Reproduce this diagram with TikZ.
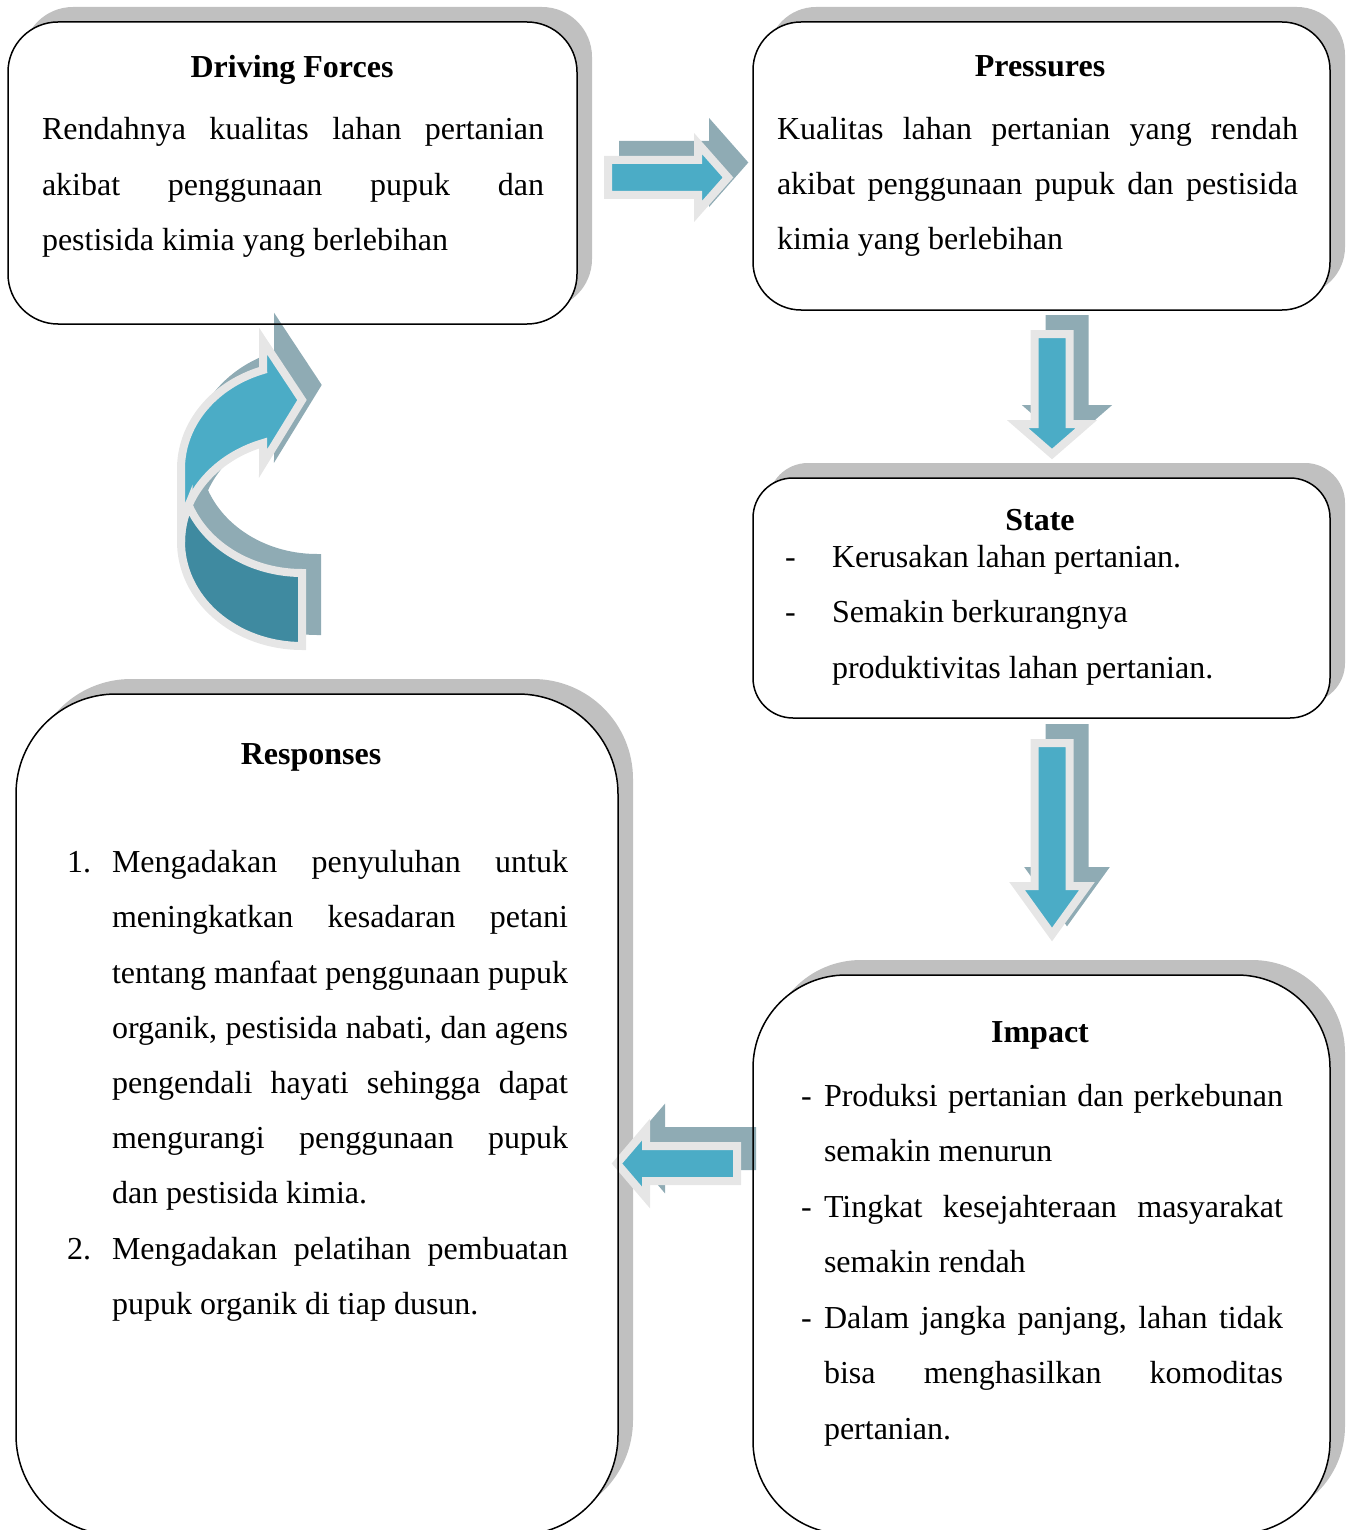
\documentclass[tikz,border=0pt]{standalone}
\usepackage{fontspec}
\setmainfont{Liberation Serif}
\definecolor{arrblue}{RGB}{75,172,198}
\definecolor{arrdark}{RGB}{63,138,160}
\definecolor{arrshadow}{RGB}{143,171,180}
\definecolor{arroutline}{RGB}{230,230,230}
\definecolor{boxshadow}{RGB}{192,192,192}
\newcommand\JLine[5]{\node[txt] (#1) at (#2,#3) {\makebox[#4pt][s]{#5}};}
\newcommand\RLine[4]{\node[txt] (#1) at (#2,#3) {#4};}
\frenchspacing
\begin{document}
\begin{tikzpicture}[x=1pt,y=-1pt,
  txt/.style={inner sep=0pt, outer sep=0pt, anchor=base west, font=\fontsize{32}{38}\selectfont},
  ttl/.style={inner sep=0pt, outer sep=0pt, anchor=base, font=\fontsize{32}{38}\selectfont\bfseries},
  boxsh/.style={rectangle, inner sep=0pt, outer sep=0pt, fill=boxshadow, draw=none},
  boxbg/.style={rectangle, inner sep=0pt, outer sep=0pt, fill=white, draw=none},
  boxline/.style={draw=black, line width=1.5pt},
  arrsh/.style={fill=arrshadow, draw=arrshadow, line width=8pt, line join=miter},
  arrfill/.style={fill=arrblue},
  arrback/.style={fill=arrdark},
  arrline/.style={draw=arroutline, line width=8pt, line join=miter},
  rapath/.style={insert path={(608,160) -- (698,160) -- (698,143.5) -- (728,177.5) -- (698,211.5) -- (698,195) -- (608,195) -- cycle}},
  dapathA/.style={insert path={(1034.5,334) -- (1069.5,334) -- (1069.5,424) -- (1086.5,424) -- (1052,454) -- (1017.5,424) -- (1034.5,424) -- cycle}},
  dapathB/.style={insert path={(1034.5,743) -- (1069.5,743) -- (1069.5,886) -- (1087,886) -- (1052,934.5) -- (1017,886) -- (1034.5,886) -- cycle}},
  lapath/.style={insert path={(737,1146) -- (646,1146) -- (646,1129.5) -- (617,1163.5) -- (646,1197.5) -- (646,1181) -- (737,1181) -- cycle}},
  cfront/.style={insert path={plot[domain=180:251.2, samples=40] ({302+121*cos(\x)},{541.75+104.25*sin(\x)}) -- (263,463.6) -- (302,400) -- (263,341) -- (263,370) -- plot[domain=251.2:180, samples=40] ({302+121*cos(\x)},{468.75+104.25*sin(\x)}) -- cycle}},
  cback/.style={insert path={plot[domain=90:200.5, samples=40] ({302+121*cos(\x)},{541.75+104.25*sin(\x)}) -- plot[domain=159.5:90, samples=40] ({302+121*cos(\x)},{468.75+104.25*sin(\x)}) -- cycle}},
]
\useasboundingbox (0,0) rectangle (1351,1530);
\clip (0,0) rectangle (1351,1530);

% box shadows
\node[boxsh, rounded corners=50pt, minimum width=569pt, minimum height=302pt] (dfs) at (307.5,158) {};
\node[boxsh, rounded corners=48pt, minimum width=577pt, minimum height=288pt] (prs) at (1056.5,151) {};
\node[boxsh, rounded corners=40pt, minimum width=577pt, minimum height=240pt] (sts) at (1056.5,583) {};
\node[boxsh, rounded corners=93pt, minimum width=577pt, minimum height=559pt] (ims) at (1056.5,1239.5) {};
\node[boxsh, rounded corners=100pt, minimum width=602pt, minimum height=841pt] (res) at (332,1099.5) {};

% box backgrounds
\node[boxbg, rounded corners=50pt, minimum width=569pt, minimum height=302pt] (df) at (292.5,173) {};
\node[boxbg, rounded corners=48pt, minimum width=577pt, minimum height=288pt] (pr) at (1041.5,166) {};
\node[boxbg, rounded corners=40pt, minimum width=577pt, minimum height=240pt] (st) at (1041.5,598) {};
\node[boxbg, rounded corners=93pt, minimum width=577pt, minimum height=559pt] (im) at (1041.5,1254.5) {};
\node[boxbg, rounded corners=100pt, minimum width=602pt, minimum height=841pt] (re) at (317,1114.5) {};

% arrow shadows
\path[arrsh, shift={(15,-15)}, rapath];
\path[arrsh, shift={(15,-15)}, dapathA];
\path[arrsh, shift={(15,-15)}, dapathB];
\path[arrsh, shift={(15,-15)}, lapath];
\path[arrsh, shift={(15,-15)}, cfront];
\path[arrsh, shift={(15,-15)}, cback];

% arrows
\path[arrfill, rapath];
\path[arrline, rapath];
\path[arrfill, dapathA];
\path[arrline, dapathA];
\path[arrfill, dapathB];
\path[arrline, dapathB];
\path[arrfill, lapath];
\path[arrline, lapath];
\path[arrfill, cfront];
\path[arrback, cback];
\path[arrline, cfront];
\path[arrline, cback];

% box outlines
\draw[boxline, rounded corners=50pt] (df.north west) rectangle (df.south east);
\draw[boxline, rounded corners=48pt] (pr.north west) rectangle (pr.south east);
\draw[boxline, rounded corners=40pt] (st.north west) rectangle (st.south east);
\draw[boxline, rounded corners=93pt] (im.north west) rectangle (im.south east);
\draw[boxline, rounded corners=100pt] (re.north west) rectangle (re.south east);

% titles
\node[ttl] (df0) at (292,78) {Driving Forces};
\node[ttl] (pr0) at (1040,77) {Pressures};
\node[ttl] (st0) at (1040,530) {State};
\node[ttl] (im0) at (1040,1042) {Impact};
\node[ttl] (re0) at (311,764) {Responses};

% Driving Forces
\JLine{df1}{42}{140}{502}{Rendahnya kualitas lahan pertanian}
\JLine{df2}{42}{196}{502}{akibat penggunaan pupuk dan}
\RLine{df3}{42}{251}{pestisida kimia yang berlebihan}

% Pressures
\JLine{pr1}{777}{140}{521}{Kualitas lahan pertanian yang rendah}
\JLine{pr2}{777}{195}{521}{akibat penggunaan pupuk dan pestisida}
\RLine{pr3}{777}{250}{kimia yang berlebihan}

% State
\RLine{std1}{785}{567}{-}
\RLine{st1}{832}{567}{Kerusakan lahan pertanian.}
\RLine{std2}{785}{622}{-}
\RLine{st2}{832}{622}{Semakin berkurangnya}
\RLine{st3}{832}{678}{produktivitas lahan pertanian.}

% Impact
\RLine{imd1}{801}{1106}{-}
\JLine{im1}{824}{1106}{459}{Produksi pertanian dan perkebunan}
\RLine{im2}{824}{1161}{semakin menurun}
\RLine{imd2}{801}{1217}{-}
\JLine{im3}{824}{1217}{459}{Tingkat kesejahteraan masyarakat}
\RLine{im4}{824}{1272}{semakin rendah}
\RLine{imd3}{801}{1328}{-}
\JLine{im5}{824}{1328}{459}{Dalam jangka panjang, lahan tidak}
\JLine{im6}{824}{1383}{459}{bisa menghasilkan komoditas}
\RLine{im7}{824}{1439}{pertanian.}

% Responses
\RLine{ren1}{67}{872}{1.}
\JLine{re1}{112}{872}{456}{Mengadakan penyuluhan untuk}
\JLine{re2}{112}{927}{456}{meningkatkan kesadaran petani}
\JLine{re3}{112}{983}{456}{tentang manfaat penggunaan pupuk}
\JLine{re4}{112}{1038}{456}{organik, pestisida nabati, dan agens}
\JLine{re5}{112}{1093}{456}{pengendali hayati sehingga dapat}
\JLine{re6}{112}{1148}{456}{mengurangi penggunaan pupuk}
\RLine{re7}{112}{1203}{dan pestisida kimia.}
\RLine{ren2}{67}{1259}{2.}
\JLine{re8}{112}{1259}{456}{Mengadakan pelatihan pembuatan}
\RLine{re9}{112}{1314}{pupuk organik di tiap dusun.}
\end{tikzpicture}
\end{document}
